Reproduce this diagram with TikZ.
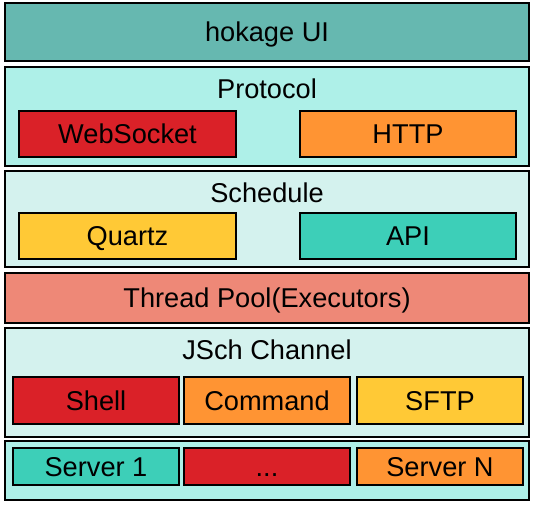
\documentclass[tikz,border=0pt]{standalone}
\usepackage{fontspec}
\setmainfont{Liberation Sans}
\definecolor{uicol}{HTML}{66B8B0}
\definecolor{lightA}{HTML}{AEF0E8}
\definecolor{lightB}{HTML}{D4F2EE}
\definecolor{redc}{HTML}{DA2128}
\definecolor{orangec}{HTML}{FF9433}
\definecolor{yellowc}{HTML}{FFC936}
\definecolor{tealc}{HTML}{3DCFB8}
\definecolor{poolc}{HTML}{EE8877}
\begin{document}
\begin{tikzpicture}[x=1pt,y=-1pt,
  every node/.style={font=\fontsize{27.2}{31}\selectfont, text=black},
  layer/.style={draw=black, line width=2pt, rectangle, inner sep=0pt, minimum width=524pt},
  part/.style={draw=black, line width=1.6pt, rectangle, inner sep=0pt, text height=19.5pt, text depth=0pt},
  wide/.style={part, minimum width=216.5pt},
  third/.style={part, minimum width=166pt},
  lbl/.style={inner sep=0pt, text height=19.5pt, text depth=0pt}]
\useasboundingbox (0,0) rectangle (536,505);
% layers
\node[layer, fill=uicol, minimum height=58pt, text height=19.5pt, text depth=0pt] (ui) at (267,32) {hokage UI};
\node[layer, fill=lightA, minimum height=99pt] (proto) at (267,116.5) {};
\node[layer, fill=lightB, minimum height=96pt] (sched) at (267,219) {};
\node[layer, fill=poolc, minimum height=50pt, text height=19.5pt, text depth=0pt] (pool) at (267,298) {Thread Pool(Executors)};
\node[layer, fill=lightB, minimum height=109pt] (jsch) at (267,382.5) {};
\node[layer, fill=lightA, minimum height=59pt] (servers) at (267,470.5) {};
% titles
\node[lbl] (protot) at (267,89) {Protocol};
\node[lbl] (schedt) at (267,193) {Schedule};
\node[lbl] (jscht) at (267,350) {JSch Channel};
% protocol
\node[wide, fill=redc, minimum height=46pt] (ws) at (127.5,134) {WebSocket};
\node[wide, fill=orangec, minimum height=46pt] (http) at (408,134) {HTTP};
% schedule
\node[wide, fill=yellowc, minimum height=46pt] (quartz) at (127.5,236) {Quartz};
\node[wide, fill=tealc, minimum height=46pt] (api) at (408,236) {API};
% jsch
\node[third, fill=redc, minimum height=47pt] (shell) at (96,400.5) {Shell};
\node[third, fill=orangec, minimum height=47pt] (cmd) at (267,400.5) {Command};
\node[third, fill=yellowc, minimum height=47pt] (sftp) at (440,400.5) {SFTP};
% servers
\node[third, fill=tealc, minimum height=37pt] (s1) at (96,466.5) {Server 1};
\node[third, fill=redc, minimum height=37pt] (sdots) at (267,466.5) {...};
\node[third, fill=orangec, minimum height=37pt] (sn) at (440,466.5) {Server N};
\end{tikzpicture}
\end{document}
